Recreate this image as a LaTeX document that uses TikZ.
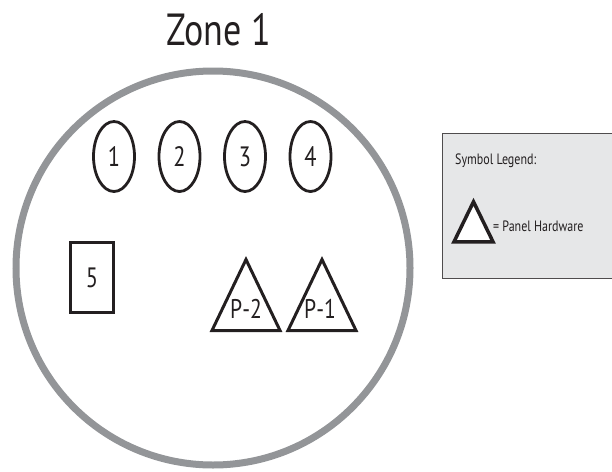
\documentclass[tikz,border=0pt]{standalone}
\usepackage{fontspec}
\setmainfont{PT Sans}[FakeStretch=0.8]
\usepackage{tikz}
\usetikzlibrary{shapes.geometric, positioning}
\definecolor{zonegray}{HTML}{939598}
\definecolor{legendgray}{HTML}{E6E7E8}
\definecolor{inkblack}{HTML}{231F20}

\begin{document}
\begin{tikzpicture}[x=1pt, y=-1pt,
  zone/.style={circle, draw=zonegray, line width=7pt, minimum size=394pt, inner sep=0pt},
  device/.style={ellipse, draw=inkblack, line width=2.8pt, minimum width=41pt,
                 minimum height=70pt, inner sep=0pt, text=inkblack,
                 font=\fontsize{28}{28}\selectfont},
  unit/.style={rectangle, draw=inkblack, line width=3pt, minimum width=43pt,
               minimum height=70pt, inner sep=0pt, text=inkblack,
               font=\fontsize{28}{28}\selectfont},
  panel/.style={isosceles triangle, isosceles triangle stretches, shape border rotate=90,
                draw=inkblack, line width=3pt, minimum width=68pt, minimum height=71pt,
                inner sep=0pt, anchor=south},
  panellabel/.style={text=inkblack, font=\fontsize{27}{27}\selectfont, inner sep=0pt},
  legend/.style={rectangle, draw=inkblack!80, fill=legendgray, line width=0.8pt},
  small/.style={text=inkblack, font=\fontsize{15}{15}\selectfont, inner sep=0pt}]

  \useasboundingbox (0,0) rectangle (612,471);

  \node[text=inkblack, font=\fontsize{45}{45}\selectfont, anchor=base] at (219, 45) (title) {Zone 1};

  \node[zone] at (213, 268) (zone) {};

  \node[device] at (114, 156.5) (d1) {1};
  \node[device] at (179.5, 156.5) (d2) {2};
  \node[device] at (245, 156.5)   (d3) {3};
  \node[device] at (310.5, 156.5) (d4) {4};

  \node[unit] at (92, 277.5) (d5) {5};

  \node[panel] at (246, 332) (p2) {};
  \node[panellabel] at (246, 308.5) (p2label) {P-2};
  \node[panel] at (322, 332) (p1) {};
  \node[panellabel] at (320, 308.5) (p1label) {P-1};

  % legend box runs off the right edge
  \begin{scope}
    \clip (0,0) rectangle (612,471);
    \node[legend, minimum width=190pt, minimum height=145pt, anchor=north west] at (442, 133) (legend) {};
  \end{scope}
  \node[small, anchor=west] at (455, 161) (legendtitle) {Symbol Legend:};
  \node[panel, fill=white, line width=3.5pt, minimum width=39pt, minimum height=40pt]
    at (473.5, 243.5) (legendsym) {};
  \node[small, anchor=west] at (493, 226) (legendtext) {= Panel Hardware};

\end{tikzpicture}
\end{document}
